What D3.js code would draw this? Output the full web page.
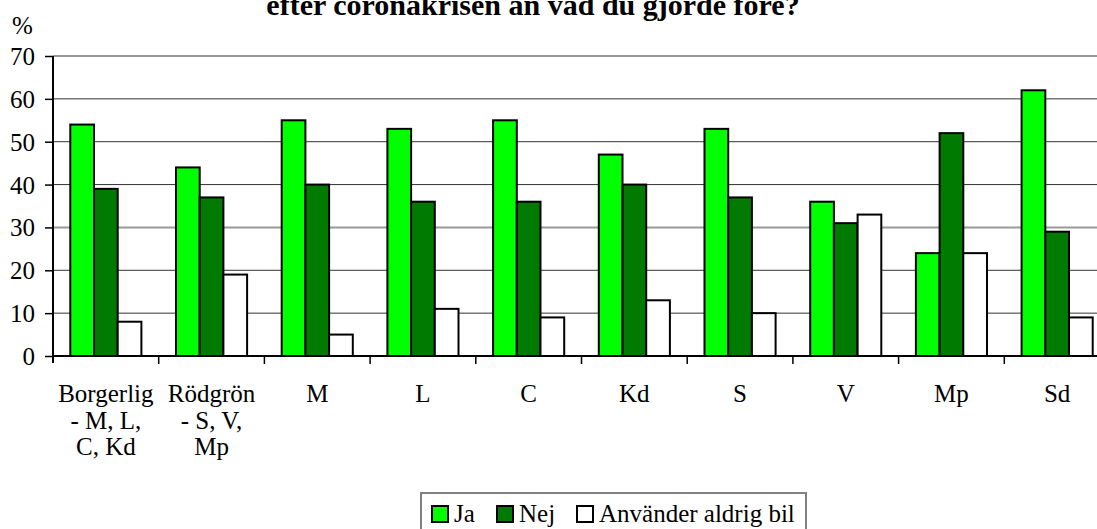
<!DOCTYPE html>
<html>
<head>
<meta charset="utf-8">
<script src="https://cdn.jsdelivr.net/npm/d3@7"></script>
<style>
  body { margin: 0; background: #fff; }
  svg { display: block; font-family: "Liberation Serif", "Times New Roman", serif; }
  .bar { stroke: #000; stroke-width: 2; }
</style>
</head>
<body>
<script>
var categories = [
  ['Borgerlig', '- M, L,', 'C, Kd'],
  ['Rödgrön', '- S, V,', 'Mp'],
  ['M'], ['L'], ['C'], ['Kd'], ['S'], ['V'], ['Mp'], ['Sd']
];
var seriesNames = ['Ja', 'Nej', 'Använder aldrig bil'];
var seriesColors = ['#00ff00', '#007a00', '#ffffff'];
var ja  = [54, 44, 55, 53, 55, 47, 53, 36, 24, 62];
var nej = [39, 37, 40, 36, 36, 40, 37, 31, 52, 29];
var aldrig = [8, 19, 5, 11, 9, 13, 10, 33, 24, 9];
var yTicks = [0, 10, 20, 30, 40, 50, 60, 70];

var width = 1097, height = 529;
var plot = { left: 53, right: 1110, top: 56, bottom: 356 };
var serif = '"Liberation Serif", "Times New Roman", serif';

var svg = d3.select('body').append('svg')
  .attr('width', width)
  .attr('height', height);

var keys = categories.map(function (c) { return c.join(' '); });

var x0 = d3.scaleBand().domain(keys).range([plot.left, plot.right]);
var x1 = d3.scaleBand().domain(d3.range(3)).range([17.3, 88.4]);
var y = d3.scaleLinear().domain([0, 70]).range([plot.bottom, plot.top]);

// title (its first line is outside the picture)
svg.append('text')
  .attr('x', 533)
  .attr('y', 15)
  .attr('text-anchor', 'middle')
  .style('font-size', '30px')
  .style('font-weight', 'bold')
  .text('efter coronakrisen än vad du gjorde före?');

svg.append('text')
  .attr('x', 12)
  .attr('y', 34)
  .style('font-size', '25px')
  .text('%');

// gridlines
svg.append('g').selectAll('line')
  .data(yTicks.filter(function (d) { return d > 0; }))
  .enter().append('line')
  .attr('x1', plot.left)
  .attr('x2', width)
  .attr('y1', function (d) { return y(d); })
  .attr('y2', function (d) { return y(d); })
  .style('stroke', function (d) { return (d === 30 || d === 70) ? '#999' : '#333'; })
  .style('stroke-width', function (d) { return (d === 30 || d === 70) ? 2 : 1; });

// bars
var data = categories.map(function (c, i) {
  return { key: keys[i], values: [ja[i], nej[i], aldrig[i]] };
});

var groups = svg.append('g').selectAll('g')
  .data(data)
  .enter().append('g')
  .attr('transform', function (d) { return 'translate(' + x0(d.key) + ',0)'; });

groups.selectAll('rect')
  .data(function (d) { return d.values; })
  .enter().append('rect')
  .attr('class', 'bar')
  .attr('x', function (d, i) { return x1(i); })
  .attr('width', x1.bandwidth())
  .attr('y', function (d) { return y(d); })
  .attr('height', function (d) { return y(0) - y(d); })
  .attr('fill', function (d, i) { return seriesColors[i]; });

// y axis
var yAxis = d3.axisLeft(y).tickValues(yTicks).tickSize(8).tickPadding(10);
var ya = svg.append('g')
  .attr('transform', 'translate(' + plot.left + ',0)')
  .call(yAxis)
  .attr('font-family', serif);
ya.select('.domain').attr('stroke', '#000').attr('stroke-width', 2).attr('d', 'M0,' + plot.top + 'V' + (plot.bottom + 7));
ya.selectAll('.tick line').attr('stroke', '#000').attr('stroke-width', 1.5);
ya.selectAll('.tick text')
  .style('font-family', serif)
  .style('font-size', '25px')
  .attr('fill', '#000')
  .attr('dy', '0.34em');

// x axis
var xa = svg.append('g')
  .attr('transform', 'translate(0,' + plot.bottom + ')');
xa.append('line')
  .attr('x1', plot.left).attr('x2', width)
  .attr('stroke', '#000').attr('stroke-width', 2);
xa.selectAll('.xtick')
  .data(keys.slice(1))
  .enter().append('line')
  .attr('x1', function (d) { return x0(d); })
  .attr('x2', function (d) { return x0(d); })
  .attr('y1', 0).attr('y2', 8)
  .attr('stroke', '#000').attr('stroke-width', 1.5);

var labels = xa.selectAll('.xlabel')
  .data(data)
  .enter().append('text')
  .attr('text-anchor', 'middle')
  .style('font-size', '25px')
  .attr('transform', function (d) { return 'translate(' + (x0(d.key) + x0.bandwidth() / 2) + ',46)'; });
labels.selectAll('tspan')
  .data(function (d, i) { return categories[i]; })
  .enter().append('tspan')
  .attr('x', 0)
  .attr('y', function (d, i) { return i * 26.5; })
  .text(function (d) { return d; });

// legend
var legend = svg.append('g');
legend.append('rect')
  .attr('x', 421).attr('y', 493)
  .attr('width', 385).attr('height', 60)
  .attr('fill', 'none').attr('stroke', '#808080').attr('stroke-width', 2);

var legendX = [432, 497, 577];
var items = legend.selectAll('.item')
  .data(seriesNames)
  .enter().append('g')
  .attr('transform', function (d, i) { return 'translate(' + legendX[i] + ',506)'; });
items.append('rect')
  .attr('width', 16).attr('height', 16)
  .attr('fill', function (d, i) { return seriesColors[i]; })
  .attr('stroke', '#000').attr('stroke-width', 2);
items.append('text')
  .attr('x', 22).attr('y', 16)
  .style('font-size', '25px')
  .text(function (d) { return d; });
</script>
</body>
</html>
